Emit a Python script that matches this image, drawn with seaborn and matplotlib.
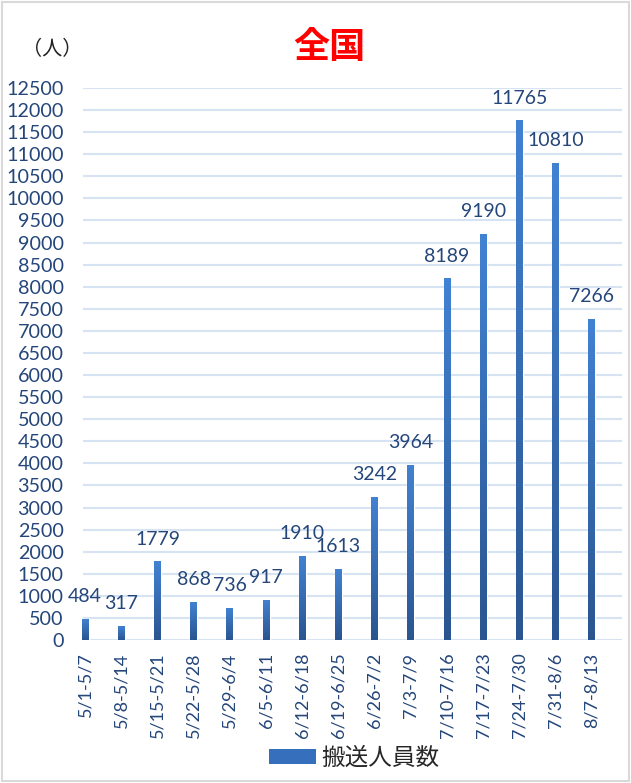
import numpy as np
import pandas as pd
import seaborn as sns
import matplotlib.pyplot as plt
from matplotlib.patches import Patch, Rectangle

# weekly data (people transported)
weeks = ['5/1-5/7', '5/8-5/14', '5/15-5/21', '5/22-5/28', '5/29-6/4', '6/5-6/11',
         '6/12-6/18', '6/19-6/25', '6/26-7/2', '7/3-7/9', '7/10-7/16', '7/17-7/23',
         '7/24-7/30', '7/31-8/6', '8/7-8/13']
counts = [484, 317, 1779, 868, 736, 917, 1910, 1613, 3242, 3964, 8189, 9190,
          11765, 10810, 7266]
yticks = list(range(0, 12501, 500))

df = pd.DataFrame({'week': weeks, 'count': counts})

sns.set_theme(style='white')
plt.rcParams['font.family'] = ['Lato', 'Noto Sans CJK JP', 'DejaVu Sans']

txt_color = '#24467a'
cjk = ['Noto Sans CJK JP', 'DejaVu Sans']

fig = plt.figure(figsize=(6.31, 7.83), dpi=100)
ax = fig.add_axes([0.1315, 0.1826, 0.854, 0.705])

sns.barplot(data=df, x='week', y='count', color='#3a70b8', width=0.19,
            saturation=1, ax=ax, zorder=3)

# vertical gradient on each bar
grad = np.linspace(0, 1, 256).reshape(-1, 1)
cmap = sns.blend_palette(['#2a5590', '#4282d3'], as_cmap=True)
for bar in ax.patches:
    x0, y0 = bar.get_x(), bar.get_y()
    w, h = bar.get_width(), bar.get_height()
    im = ax.imshow(grad, extent=[x0, x0 + w, y0, y0 + h], origin='lower',
                   cmap=cmap, aspect='auto', zorder=4)
    im.set_clip_path(bar)

for i, v in enumerate(counts):
    ax.annotate(str(v), (i, v), xytext=(0, 16), textcoords='offset points',
                ha='center', va='center', fontsize=14, color=txt_color)

ax.set_xlim(-0.06, 14.83)
ax.set_ylim(0, 12500)
ax.set_yticks(yticks)
ax.set_yticklabels([str(t) for t in yticks])
ax.yaxis.grid(True, color='#d6e3f3', linewidth=1.5, zorder=0)
ax.set_axisbelow(True)
for s in ax.spines.values():
    s.set_visible(False)
ax.tick_params(axis='y', length=0, pad=14, labelsize=14.2, labelcolor=txt_color)
ax.tick_params(axis='x', length=0, pad=9, labelsize=13, labelcolor=txt_color,
               rotation=90)
ax.set_xlabel('')
ax.set_ylabel('')

fig.text(0.522, 0.939, '全国', family=cjk, fontsize=26, fontweight='bold',
         color='#ff0000', ha='center', va='center')
fig.text(0.082, 0.937, '（人）', family=cjk, fontsize=14.5, color='#222222',
         ha='center', va='center')

handle = Patch(facecolor='#3670bd', edgecolor='none')
fig.legend([handle], ['搬送人員数'], loc='center', bbox_to_anchor=(0.561, 0.031),
           frameon=False, prop={'family': cjk, 'size': 17},
           handlelength=2.0, handleheight=0.6, handletextpad=0.2)

fig.patches.append(Rectangle((0.003, 0.003), 0.994, 0.994, transform=fig.transFigure,
                             fill=False, edgecolor='#d9d9d9', linewidth=1.5))

fig.savefig('out.png', dpi=100)
